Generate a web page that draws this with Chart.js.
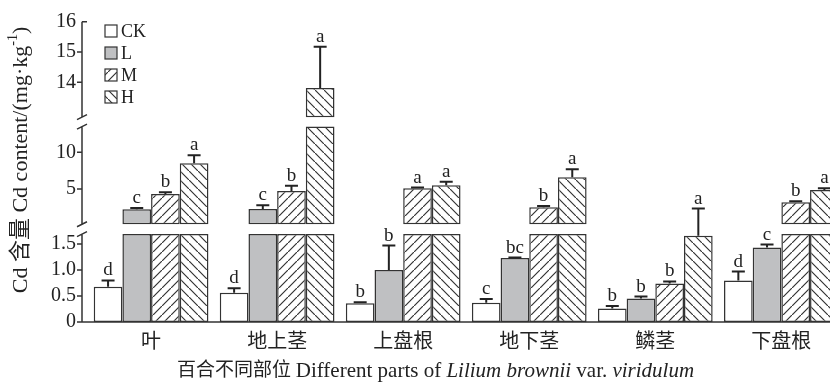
<!DOCTYPE html>
<html>
<head>
<meta charset="utf-8">
<script src="https://cdn.jsdelivr.net/npm/chart.js@4.4.0/dist/chart.umd.min.js"></script>
<style>
  html, body { margin: 0; padding: 0; background: #fff; overflow: hidden; }
  #wrap { width: 857px; height: 385px; }
</style>
</head>
<body>
<div id="wrap"><canvas id="grafico" width="857" height="385"></canvas></div>
<script>
const parts = ['叶', '地上茎', '上盘根', '地下茎', '鳞茎', '下盘根'];
const series = ['CK', 'L', 'M', 'H'];

// mean Cd content (mg/kg) per part, and the upper error length
const meanCK = [0.68, 0.56, 0.36, 0.37, 0.26, 0.80];
const meanL = [2.23, 2.28, 1.00, 1.23, 0.45, 1.43];
const meanM = [4.32, 4.73, 5.10, 2.51, 0.74, 3.19];
const meanH = [8.50, 13.81, 5.50, 6.59, 1.66, 4.86];
const errCK = [0.12, 0.09, 0.02, 0.07, 0.05, 0.17];
const errL = [0.18, 0.49, 0.47, 0.01, 0.04, 0.06];
const errM = [0.23, 0.72, 0.10, 0.17, 0.04, 0.13];
const errH = [1.09, 1.36, 0.49, 1.09, 0.52, 0.24];
const lettersCK = ['d', 'd', 'b', 'c', 'b', 'd'];
const lettersL = ['c', 'c', 'b', 'bc', 'b', 'c'];
const lettersM = ['b', 'b', 'a', 'b', 'b', 'b'];
const lettersH = ['a', 'a', 'a', 'a', 'a', 'a'];

const ticksBottom = [0, 0.5, 1.0, 1.5];
const ticksMiddle = [5, 10];
const ticksTop = [14, 15, 16];

// where the broken axis cuts the bars
const BOT_CUT = 1.69;
const MID_FLOOR = 0.2;
const MID_CUT = 13.5;
const TOP_FLOOR = 12.85;

const means = { CK: meanCK, L: meanL, M: meanM, H: meanH };
const errs = { CK: errCK, L: errL, M: errM, H: errH };
const letters = { CK: lettersCK, L: lettersL, M: lettersM, H: lettersH };

const FONT = '"Liberation Serif", "Noto Sans CJK SC", serif';
const INK = '#222';
Chart.defaults.font.family = FONT;
Chart.defaults.color = INK;

const canvas = document.getElementById('grafico');
const ctx = canvas.getContext('2d');

function hatch(dir) {
  const n = 9;
  const c = document.createElement('canvas');
  c.width = n; c.height = n;
  const g = c.getContext('2d');
  g.fillStyle = '#fff';
  g.fillRect(0, 0, n, n);
  g.strokeStyle = '#333';
  g.lineWidth = 1.2;
  g.beginPath();
  if (dir > 0) {
    g.moveTo(-1, n + 1); g.lineTo(n + 1, -1);
    g.moveTo(-2, 1); g.lineTo(1, -2);
    g.moveTo(n - 1, n + 2); g.lineTo(n + 2, n - 1);
  } else {
    g.moveTo(-1, -1); g.lineTo(n + 1, n + 1);
    g.moveTo(-2, n - 1); g.lineTo(1, n + 2);
    g.moveTo(n - 1, -2); g.lineTo(n + 2, 1);
  }
  g.stroke();
  return ctx.createPattern(c, 'repeat');
}

const fills = { CK: '#ffffff', L: '#bfc0c2', M: hatch(1), H: hatch(-1) };

function bottomData(vals) {
  return vals.map((v, i) => ({ x: i, y: [0, Math.min(v, BOT_CUT)] }));
}
function middleData(vals) {
  return vals.map((v, i) => v > BOT_CUT ? { x: i, y: [MID_FLOOR, Math.min(v, MID_CUT)] } : null).filter(d => d);
}
function topData(vals) {
  return vals.map((v, i) => v > MID_CUT ? { x: i, y: [TOP_FLOOR, v] } : null).filter(d => d);
}

const datasets = [];
series.forEach(s => datasets.push({ label: s, stack: s, yAxisID: 'yBot', data: bottomData(means[s]), backgroundColor: fills[s] }));
series.forEach(s => {
  const d = middleData(means[s]);
  if (d.length) datasets.push({ label: s, stack: s, yAxisID: 'yMid', data: d, backgroundColor: fills[s] });
});
series.forEach(s => {
  const d = topData(means[s]);
  if (d.length) datasets.push({ label: s, stack: s, yAxisID: 'yTop', data: d, backgroundColor: fills[s] });
});

function yScale(lo, hi, weight, ticks, fmt) {
  return {
    type: 'linear', position: 'left', stack: 'cd', stackWeight: weight,
    min: lo, max: hi, stacked: false, beginAtZero: false,
    grid: { display: false, drawTicks: false }, border: { display: false },
    afterBuildTicks: s => { s.ticks = ticks.map(v => ({ value: v })); },
    afterFit: s => { s.width = 60; },
    ticks: { autoSkip: false, padding: 6, color: INK, font: { size: 20 }, callback: fmt }
  };
}

// draws text pieces one after another, each with its own font
function drawPieces(c, pieces, x, y) {
  pieces.forEach(p => {
    c.font = p.font;
    c.fillText(p.text, x, y + (p.dy || 0));
    x += c.measureText(p.text).width;
  });
}
function piecesWidth(c, pieces) {
  let w = 0;
  pieces.forEach(p => { c.font = p.font; w += c.measureText(p.text).width; });
  return w;
}

// error bars, letters, broken axis, legend and titles
const extras = {
  id: 'extras',
  afterDatasetsDraw(chart) {
    const c = chart.ctx;
    const { yBot, yMid, yTop } = chart.scales;
    const area = chart.chartArea;
    const ax = area.left;

    c.save();
    c.strokeStyle = INK;
    c.fillStyle = INK;
    c.lineWidth = 2;
    c.font = '19px ' + FONT;
    c.textAlign = 'center';
    c.textBaseline = 'alphabetic';
    series.forEach((s, k) => {
      chart.getDatasetMeta(k).data.forEach((bar, i) => {
        const v = means[s][i];
        const top = v + errs[s][i];
        const sc = v > MID_CUT ? yTop : v > BOT_CUT ? yMid : yBot;
        const y0 = sc.getPixelForValue(v);
        const y1 = sc.getPixelForValue(top);
        c.beginPath();
        c.moveTo(bar.x, y0); c.lineTo(bar.x, y1);
        c.moveTo(bar.x - 6.5, y1); c.lineTo(bar.x + 6.5, y1);
        c.stroke();
        c.fillText(letters[s][i], bar.x, y1 - 5);
      });
    });

    // axis lines with breaks
    c.strokeStyle = '#333';
    c.lineWidth = 1.5;
    const yb0 = yBot.getPixelForValue(0), yb1 = yBot.getPixelForValue(BOT_CUT);
    const ym0 = yMid.getPixelForValue(MID_FLOOR), ym1 = yMid.getPixelForValue(MID_CUT);
    const yt0 = yTop.getPixelForValue(TOP_FLOOR), yt1 = yTop.getPixelForValue(16);
    c.beginPath();
    c.moveTo(ax, yb0); c.lineTo(area.right, yb0);
    c.moveTo(ax, yb0); c.lineTo(ax, yb1);
    c.moveTo(ax, ym0); c.lineTo(ax, ym1);
    c.moveTo(ax, yt0); c.lineTo(ax, yt1);
    [yb1, ym0, ym1, yt0].forEach(y => { c.moveTo(ax - 5, y + 2.5); c.lineTo(ax + 5, y - 2.5); });
    ticksBottom.forEach(v => { const y = yBot.getPixelForValue(v); c.moveTo(ax - 5, y); c.lineTo(ax, y); });
    ticksMiddle.forEach(v => { const y = yMid.getPixelForValue(v); c.moveTo(ax - 5, y); c.lineTo(ax, y); });
    ticksTop.forEach(v => {
      const y = yTop.getPixelForValue(v);
      if (v === 16) { c.moveTo(ax, y); c.lineTo(ax + 5, y); } else { c.moveTo(ax - 5, y); c.lineTo(ax, y); }
    });
    c.stroke();

    // legend
    c.font = '18px ' + FONT;
    c.textAlign = 'left';
    c.textBaseline = 'middle';
    c.lineWidth = 1.2;
    series.forEach((s, k) => {
      const cy = 31 + k * 22;
      c.fillStyle = fills[s];
      c.fillRect(105, cy - 6, 12, 12);
      c.strokeRect(105, cy - 6, 12, 12);
      c.fillStyle = INK;
      c.fillText(s, 121, cy + 1);
    });

    // y title, rotated
    const yPieces = [
      { text: 'Cd 含量 Cd content/(mg·kg', font: '22px ' + FONT },
      { text: '-1', font: '14px ' + FONT, dy: -8 },
      { text: ')', font: '22px ' + FONT }
    ];
    c.save();
    c.translate(21, 160);
    c.rotate(-Math.PI / 2);
    drawPieces(c, yPieces, -piecesWidth(c, yPieces) / 2, 0);
    c.restore();

    // x title with italic species name
    const xPieces = [
      { text: '百合不同部位 ', font: '19px ' + FONT },
      { text: 'Different parts of ', font: '21px ' + FONT },
      { text: 'Lilium brownii', font: 'italic 21px ' + FONT },
      { text: ' var. ', font: '21px ' + FONT },
      { text: 'viridulum', font: 'italic 21px ' + FONT }
    ];
    drawPieces(c, xPieces, 177, 371);
    c.restore();
  }
};

new Chart(ctx, {
  type: 'bar',
  data: { datasets },
  options: {
    responsive: false,
    animation: false,
    layout: { padding: { left: 22, top: 21.7, right: 0, bottom: 0 } },
    plugins: { legend: { display: false }, tooltip: { enabled: false } },
    datasets: {
      bar: { categoryPercentage: 0.91, barPercentage: 1, borderWidth: 1.5, borderColor: '#333', borderSkipped: false }
    },
    scales: {
      x: {
        type: 'linear', position: 'bottom', min: -0.548, max: 5.6, offset: false,
        grid: { display: false, drawTicks: false, offset: false }, border: { display: false },
        afterBuildTicks: s => { s.ticks = parts.map((p, i) => ({ value: i })); },
        afterFit: s => { s.height = 63; },
        ticks: { autoSkip: false, maxRotation: 0, padding: 9, color: INK, font: { size: 20 }, callback: v => parts[v] }
      },
      yBot: yScale(0, 1.788, 93, ticksBottom, v => v === 0 ? '0' : v.toFixed(1)),
      yMid: yScale(-0.45, 14.13, 107, ticksMiddle, v => String(v)),
      yTop: yScale(12.69, 16, 100.3, ticksTop, v => String(v))
    }
  },
  plugins: [extras]
});
</script>
</body>
</html>
